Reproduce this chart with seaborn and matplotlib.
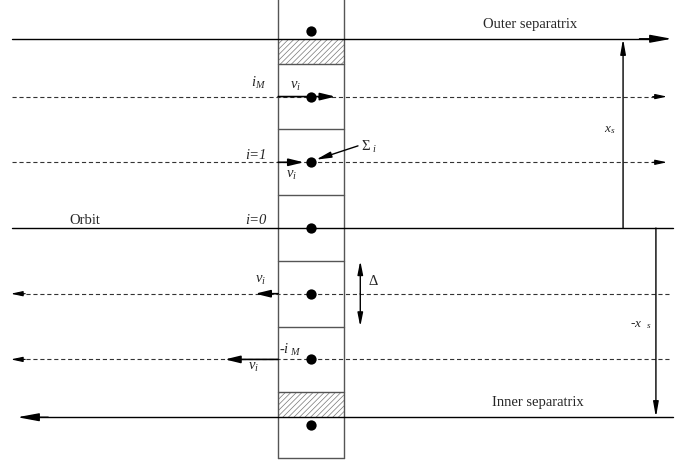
import matplotlib
matplotlib.use("Agg")
import matplotlib.pyplot as plt
import seaborn as sns
import pandas as pd
from matplotlib.patches import Rectangle

# ---- data (in units of the cell size Delta) ----
dot_levels = [3, 2, 1, 0, -1, -2, -3]
cell_bounds = [2.5, 1.5, 0.5, -0.5, -1.5, -2.5, -3.5]
sep_level = 2.88
flow_levels = [2, 1, -1, -2]
flow_dirs = [1, 1, -1, -1]
v_tips = [0.37, -0.11, -0.85, -1.31]
level_labels = ["$i_M$", "i=1", "i=0"]
level_label_y = [2.2, 1.11, 0.12]

sns.set_theme(style="white")
plt.rcParams["font.family"] = ["Liberation Serif", "DejaVu Serif"]
plt.rcParams["mathtext.fontset"] = "custom"
plt.rcParams["mathtext.rm"] = "Liberation Serif"
plt.rcParams["mathtext.it"] = "Liberation Serif:italic"
plt.rcParams["mathtext.bf"] = "Liberation Serif:bold"
plt.rcParams["lines.scale_dashes"] = False
plt.rcParams["hatch.linewidth"] = 0.5

fig = plt.figure(figsize=(6.91, 4.65), dpi=100)
ax = fig.add_axes([0, 0, 1, 1])
ax.set_xlim(-4.734, 5.784)
ax.set_ylim(-3.607, 3.470)
ax.axis("off")

K = "black"
LW = 1.0
BOXC = "#555555"


def arrow(x0, y0, x1, y1, hl=10, hw=2.2, lw=LW, color=K, both=False):
    style = "<|-|>" if both else "-|>"
    ax.annotate("", xy=(x1, y1), xytext=(x0, y0),
                arrowprops=dict(arrowstyle=f"{style},head_length={hl/10},head_width={hw/10}",
                                mutation_scale=10, lw=lw, color=color,
                                shrinkA=0, shrinkB=0), zorder=4)


# column of cells
ax.plot([-0.5, -0.5], [-3.5, 3.6], color=BOXC, lw=LW, zorder=3)
ax.plot([0.5, 0.5], [-3.5, 3.6], color=BOXC, lw=LW, zorder=3)
for b in cell_bounds:
    ax.plot([-0.5, 0.5], [b, b], color=BOXC, lw=LW, zorder=3)

# hatched cells at separatrices
for lo, hi in [(2.5, sep_level), (-sep_level, -2.5)]:
    ax.add_patch(Rectangle((-0.5, lo), 1.0, hi - lo, facecolor="white",
                           edgecolor="#777777", hatch="//////", lw=0, zorder=2))

# separatrices and orbit
ax.plot([-4.55, 5.3], [sep_level, sep_level], color=K, lw=LW, zorder=3)
arrow(5.0, sep_level, 5.49, sep_level, hl=13, hw=2.4)
ax.plot([-4.3, 5.51], [-sep_level, -sep_level], color=K, lw=LW, zorder=3)
arrow(-4.0, -sep_level, -4.47, -sep_level, hl=13, hw=2.4)
ax.plot([-4.55, 5.51], [0, 0], color=K, lw=LW, zorder=3)

# dashed flow lines
for lev, d in zip(flow_levels, flow_dirs):
    if d > 0:
        ax.plot([-4.55, 5.3], [lev, lev], color="#333333", lw=0.8, ls=(0, (3, 2)), zorder=1)
        arrow(5.2, lev, 5.42, lev, hl=7, hw=1.5, lw=0.8)
    else:
        ax.plot([-4.45, 5.45], [lev, lev], color="#333333", lw=0.8, ls=(0, (3, 2)), zorder=1)
        arrow(-4.35, lev, -4.57, lev, hl=7, hw=1.5, lw=0.8)

# velocity arrows
for lev, tip in zip(flow_levels, v_tips):
    arrow(-0.5, lev, tip, lev, hl=9, hw=2.2, lw=1.2)

# dots
dots = pd.DataFrame({"x": [0.0] * len(dot_levels), "y": dot_levels})
sns.scatterplot(data=dots, x="x", y="y", ax=ax, color=K, s=55, edgecolor=K,
                linewidth=0, zorder=5, legend=False)

# extent arrows
arrow(4.75, 0, 4.75, sep_level, hl=9, hw=1.6)
arrow(5.25, 0, 5.25, -sep_level, hl=9, hw=1.6)
arrow(0.75, -1.0, 0.75, -0.5, hl=8, hw=1.6)
arrow(0.75, -1.0, 0.75, -1.5, hl=8, hw=1.6)

# Sigma arrow
arrow(0.715, 1.25, 0.076, 1.04, hl=9, hw=1.8)

FS = 10.5
# labels
for t, yy in zip(level_labels, level_label_y):
    ax.text(-0.68, yy, t, ha="right", va="center", fontsize=FS, fontstyle="italic")
ax.text(-0.24, 2.16, "$v_i$", ha="center", va="center", fontsize=FS)
ax.text(-0.29, 0.8, "$v_i$", ha="center", va="center", fontsize=FS)
ax.text(-0.77, -0.8, "$v_i$", ha="center", va="center", fontsize=FS)
ax.text(-0.88, -2.12, "$v_i$", ha="center", va="center", fontsize=FS)
ax.text(-0.49, -1.86, "-$i_{\\ M}$", ha="left", va="center", fontsize=FS)
ax.text(0.76, 1.24, "$\\Sigma_{\\ i}$", ha="left", va="center", fontsize=FS)
ax.text(0.86, -0.81, "$\\Delta$", ha="left", va="center", fontsize=FS)
ax.text(4.55, 1.49, "$x_s$", ha="center", va="center", fontsize=FS - 1)
ax.text(4.85, -1.48, "-$x\\ \\ _s$", ha="left", va="center", fontsize=FS - 1)
ax.text(-3.45, 0.12, "Orbit", ha="center", va="center", fontsize=FS)
ax.text(3.33, 3.1, "Outer separatrix", ha="center", va="center", fontsize=FS)
ax.text(3.46, -2.66, "Inner separatrix", ha="center", va="center", fontsize=FS)

fig.savefig("out.png", dpi=100)
